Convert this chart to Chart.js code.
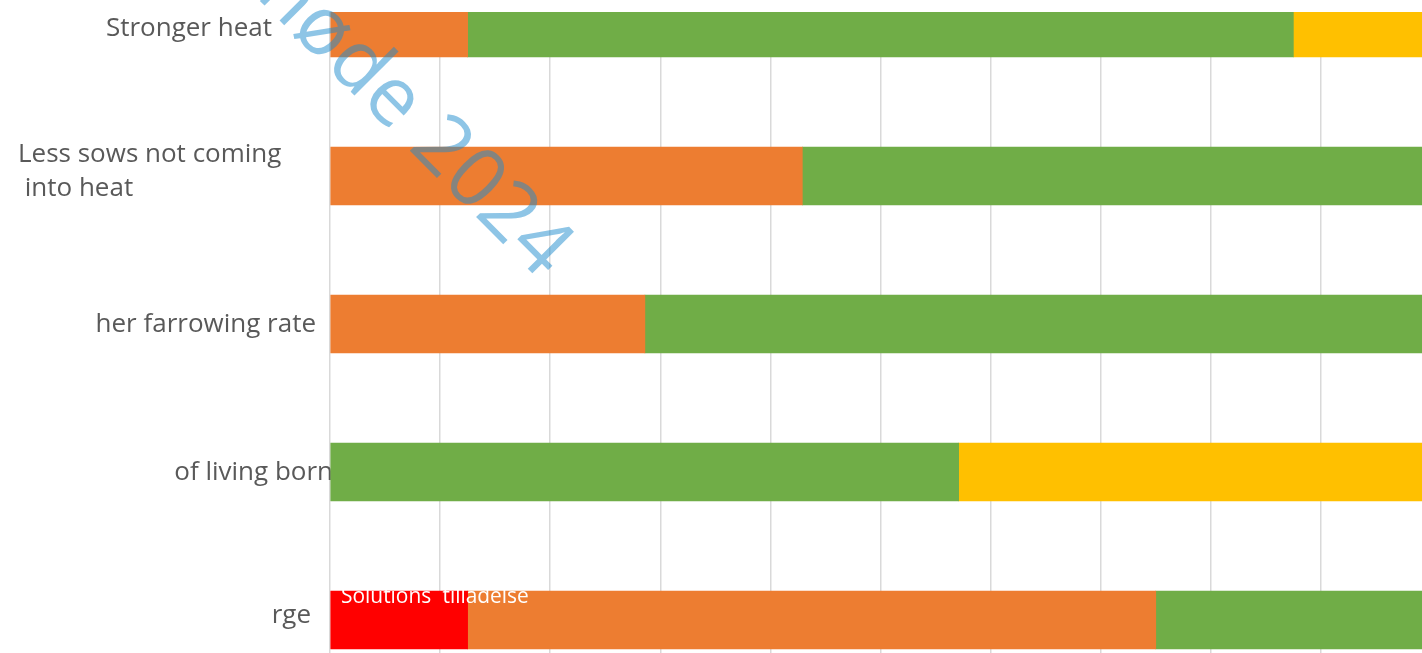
<!DOCTYPE html>
<html>
<head>
<meta charset="utf-8">
<script src="https://cdn.jsdelivr.net/npm/chart.js@4"></script>
<style>
  html, body { margin: 0; padding: 0; background: #fff; }
  body { width: 1422px; height: 653px; overflow: hidden; position: relative; }
  #clip { position: absolute; left: 0; top: 12px; width: 1422px; height: 641px; overflow: hidden; }
  #wrap { position: absolute; left: 0; top: -58px; width: 1431px; height: 740px; }
  #overlay { position: absolute; left: 0; top: 0; pointer-events: none; }
  #note {
    position: absolute; left: 341px; top: 583px;
    font: 22px "Open Sans", sans-serif; line-height: 1; white-space: nowrap; color: #fff;
    transform-origin: 0 0; transform: scaleX(0.95);
  }
</style>
</head>
<body>
<div id="clip"><div id="wrap"><canvas id="effects"></canvas></div></div>
<div id="note">Solutions´ tilladelse</div>
<canvas id="overlay" width="1422" height="653"></canvas>
<script>
// categories (left part of some labels is hidden in the source picture)
var categories = [
    ['Stronger heat'],
    ['Less sows not coming', ' into heat'],
    ['her farrowing rate'],
    ['of living born'],
    ['rge']
];

// share of answers, % per category (null = no segment)
var redValues    = [null, null, null, null, 12.5];
var orangeValues = [12.5, 42.9, 28.6, null, 62.5];
var greenValues  = [75,   57.1, 71.4, 57.1, 25];
var yellowValues = [12.5, null, null, 42.9, null];

var xTicks = [0, 10, 20, 30, 40, 50, 60, 70, 80, 90, 100];

// where each label sits relative to the axis
var labelLayout = [
    { align: 'right', x: 272, dy: 1 },
    { align: 'left',  x: 18,  dy: -4 },
    { align: 'right', x: 316, dy: 1 },
    { align: 'right', x: 333, dy: 1 },
    { align: 'right', x: 311, dy: -4 }
];

var catLabels = {
    id: 'catLabels',
    beforeDatasetsDraw: function (chart) {
        var yScale = chart.scales.y;
        var c = chart.ctx;
        var lh = 34;
        c.save();
        c.font = '26px "Open Sans", sans-serif';
        c.fillStyle = '#595959';
        c.textBaseline = 'middle';
        categories.forEach(function (lines, i) {
            var lay = labelLayout[i];
            var y0 = yScale.getPixelForValue(i) + lay.dy - (lines.length - 1) * lh / 2;
            c.textAlign = lay.align;
            lines.forEach(function (t, j) {
                c.fillText(t, lay.x, y0 + j * lh);
            });
        });
        c.restore();
    }
};

var ctxl = document.getElementById('effects');
var myBarChart = new Chart(ctxl, {
    type: 'bar',
    data: {
        labels: categories,
        datasets: [
            { label: 'Red',    data: redValues,    backgroundColor: '#FF0000' },
            { label: 'Orange', data: orangeValues, backgroundColor: '#ED7D31' },
            { label: 'Green',  data: greenValues,  backgroundColor: '#70AD47' },
            { label: 'Yellow', data: yellowValues, backgroundColor: '#FFC000' }
        ]
    },
    options: {
        indexAxis: 'y',
        responsive: true,
        maintainAspectRatio: false,
        animation: false,
        layout: { padding: 0 },
        datasets: { bar: { barThickness: 58, borderWidth: 0 } },
        plugins: {
            legend: { display: false },
            tooltip: { enabled: false }
        },
        scales: {
            x: {
                stacked: true,
                min: 0,
                max: 100,
                afterBuildTicks: function (scale) {
                    scale.ticks = xTicks.map(function (v) { return { value: v }; });
                },
                ticks: { display: false },
                grid: { color: '#D9D9D9', lineWidth: 1.5, drawTicks: false },
                border: { display: false }
            },
            y: {
                stacked: true,
                ticks: { display: false },
                grid: { display: false, drawTicks: false },
                border: { display: false },
                afterFit: function (scale) { scale.width = 330; }
            }
        }
    },
    plugins: [catLabels]
});

// diagonal watermark over the picture
var ov = document.getElementById('overlay').getContext('2d');
ov.save();
ov.translate(407, 148);
ov.rotate(Math.PI / 4);
ov.font = '500 82px "Open Sans", sans-serif';
ov.fillStyle = 'rgba(30, 140, 205, 0.5)';
ov.textBaseline = 'alphabetic';
ov.textAlign = 'right';
ov.fillText('møde ', 0, 0);
ov.textAlign = 'left';
ov.fillText('2024', 0, 0);
ov.restore();
</script>
</body>
</html>
